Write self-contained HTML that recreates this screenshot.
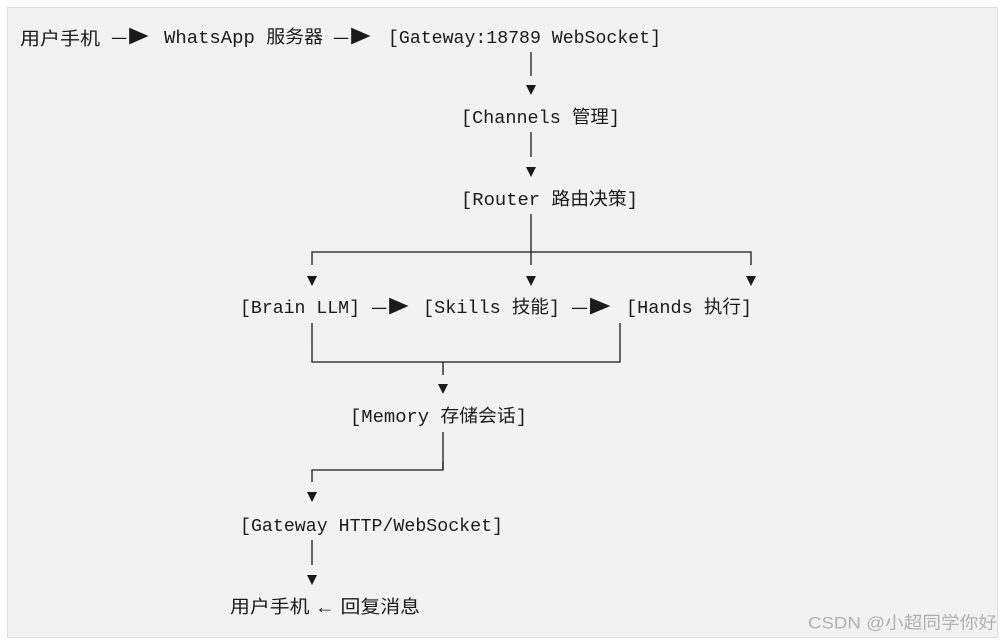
<!DOCTYPE html>
<html><head><meta charset="utf-8"><style>
html,body{margin:0;padding:0;background:#fff;width:1003px;height:641px;overflow:hidden}
svg{position:absolute;left:0;top:0}
text{font-family:"Liberation Mono","Noto Sans CJK SC",monospace;font-size:18px;fill:#1a1a1a;dominant-baseline:central}
.cj{font-family:"Liberation Sans","Noto Sans CJK SC",sans-serif}
</style></head><body>
<svg width="1003" height="641" viewBox="0 0 1003 641">
<rect x="7.5" y="7.5" width="990" height="630" fill="#f2f2f2" stroke="#dedede"/>
<g transform="translate(0,2)">
<text x="20" y="37" textLength="80" lengthAdjust="spacingAndGlyphs" class="cj">用户手机</text>
<text x="112" y="37" textLength="38" lengthAdjust="spacingAndGlyphs">—▶</text>
<text x="164" y="37" textLength="159" lengthAdjust="spacingAndGlyphs">WhatsApp 服务器</text>
<text x="334" y="37" textLength="38" lengthAdjust="spacingAndGlyphs">—▶</text>
<text x="388" y="37" textLength="273" lengthAdjust="spacingAndGlyphs">[Gateway:18789 WebSocket]</text>
<text x="461" y="117" textLength="159" lengthAdjust="spacingAndGlyphs">[Channels 管理]</text>
<text x="461" y="199" textLength="177" lengthAdjust="spacingAndGlyphs">[Router 路由决策]</text>
<text x="240" y="307" textLength="120" lengthAdjust="spacingAndGlyphs">[Brain LLM]</text>
<text x="372" y="307" textLength="38" lengthAdjust="spacingAndGlyphs">—▶</text>
<text x="423" y="307" textLength="137" lengthAdjust="spacingAndGlyphs">[Skills 技能]</text>
<text x="572" y="307" textLength="40" lengthAdjust="spacingAndGlyphs">—▶</text>
<text x="626" y="307" textLength="126" lengthAdjust="spacingAndGlyphs">[Hands 执行]</text>
<text x="350" y="416" textLength="177" lengthAdjust="spacingAndGlyphs">[Memory 存储会话]</text>
<text x="240" y="525" textLength="263" lengthAdjust="spacingAndGlyphs">[Gateway HTTP/WebSocket]</text>
<text x="230" y="605" textLength="190" lengthAdjust="spacingAndGlyphs" class="cj">用户手机 ← 回复消息</text>
<text x="808" y="621" textLength="189" lengthAdjust="spacingAndGlyphs" class="cj" style="fill:#b0b0b0;font-size:17px">CSDN @小超同学你好</text>
</g>
<g stroke="#1a1a1a" stroke-width="1.3" fill="none">
<line x1="531" y1="52" x2="531" y2="76"/>
<line x1="531" y1="132" x2="531" y2="157"/>
<line x1="531" y1="214" x2="531" y2="265"/>
<polyline points="312,265 312,252 751,252 751,265"/>
<line x1="312" y1="323" x2="312" y2="350"/>
<line x1="620" y1="323" x2="620" y2="350"/>
<polyline points="312,350 312,362 620,362 620,350"/>
<line x1="443" y1="362" x2="443" y2="375"/>
<line x1="443" y1="432" x2="443" y2="470"/>
<polyline points="443,462 443,470 312,470 312,482"/>
<line x1="312" y1="540" x2="312" y2="565"/>
</g>
<g fill="#1a1a1a">
<path d="M526,85 h10 l-5,10z"/>
<path d="M526,167 h10 l-5,10z"/>
<path d="M307,276 h10 l-5,10z"/>
<path d="M526,276 h10 l-5,10z"/>
<path d="M746,276 h10 l-5,10z"/>
<path d="M438,384 h10 l-5,10z"/>
<path d="M307,492 h10 l-5,10z"/>
<path d="M307,575 h10 l-5,10z"/>
</g>
</svg>
</body></html>
